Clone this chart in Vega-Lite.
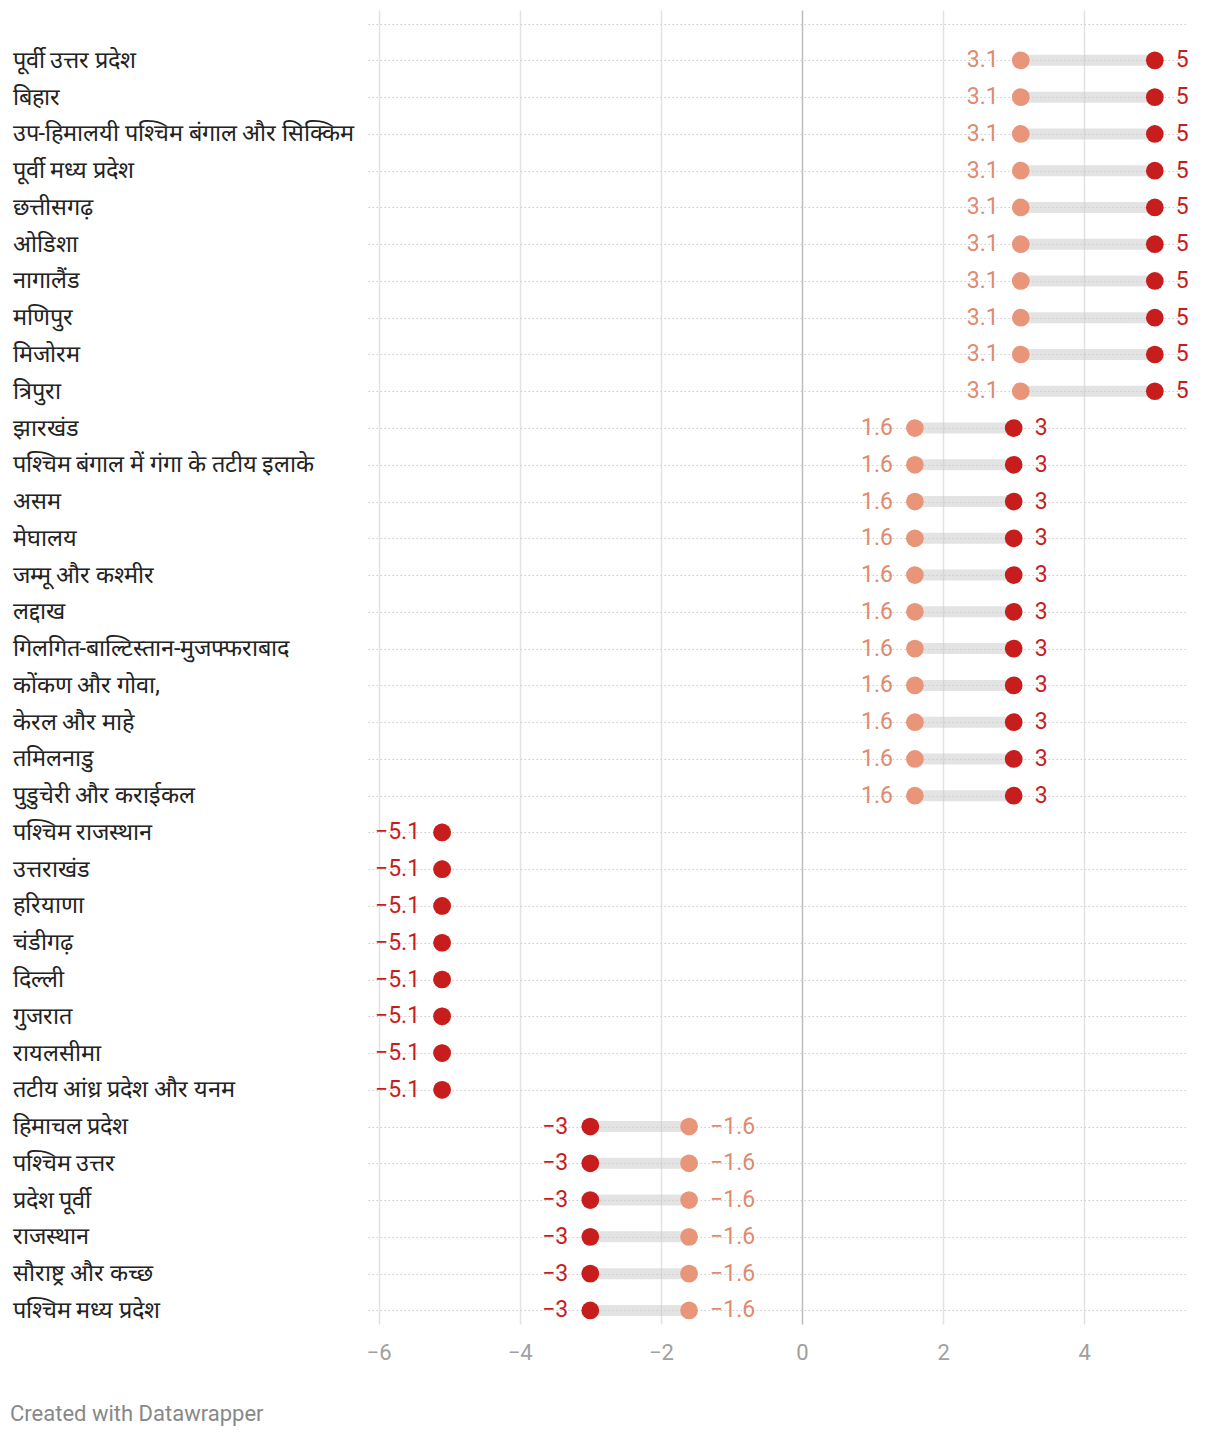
{
  "$schema": "https://vega.github.io/schema/vega-lite/v6.json",
  "autosize": "none",
  "width": 820,
  "height": 1314,
  "padding": {"left": 368, "top": 10, "right": 32, "bottom": 114},
  "background": "white",
  "config": {"view": {"stroke": null}, "font": "Roboto"},
  "title": {
    "text": "Created with Datawrapper",
    "orient": "bottom",
    "anchor": "start",
    "frame": "group",
    "dx": -358,
    "offset": 41,
    "fontSize": 22,
    "font": "Roboto",
    "fontWeight": "normal",
    "color": "#888888"
  },
  "data": {
    "values": [
      {"region": "पूर्वी उत्तर प्रदेश", "value1": 3.1, "value2": 5},
      {"region": "बिहार", "value1": 3.1, "value2": 5},
      {"region": "उप-हिमालयी पश्चिम बंगाल और सिक्किम", "value1": 3.1, "value2": 5},
      {"region": "पूर्वी मध्य प्रदेश", "value1": 3.1, "value2": 5},
      {"region": "छत्तीसगढ़", "value1": 3.1, "value2": 5},
      {"region": "ओडिशा", "value1": 3.1, "value2": 5},
      {"region": "नागालैंड", "value1": 3.1, "value2": 5},
      {"region": "मणिपुर", "value1": 3.1, "value2": 5},
      {"region": "मिजोरम", "value1": 3.1, "value2": 5},
      {"region": "त्रिपुरा", "value1": 3.1, "value2": 5},
      {"region": "झारखंड", "value1": 1.6, "value2": 3},
      {"region": "पश्चिम बंगाल में गंगा के तटीय इलाके", "value1": 1.6, "value2": 3},
      {"region": "असम", "value1": 1.6, "value2": 3},
      {"region": "मेघालय", "value1": 1.6, "value2": 3},
      {"region": "जम्मू और कश्मीर", "value1": 1.6, "value2": 3},
      {"region": "लद्दाख", "value1": 1.6, "value2": 3},
      {"region": "गिलगित-बाल्टिस्तान-मुजफ्फराबाद", "value1": 1.6, "value2": 3},
      {"region": "कोंकण और गोवा,", "value1": 1.6, "value2": 3},
      {"region": "केरल और माहे", "value1": 1.6, "value2": 3},
      {"region": "तमिलनाडु", "value1": 1.6, "value2": 3},
      {"region": "पुडुचेरी और कराईकल", "value1": 1.6, "value2": 3},
      {"region": "पश्चिम राजस्थान", "value1": -5.1, "value2": -5.1},
      {"region": "उत्तराखंड", "value1": -5.1, "value2": -5.1},
      {"region": "हरियाणा", "value1": -5.1, "value2": -5.1},
      {"region": "चंडीगढ़", "value1": -5.1, "value2": -5.1},
      {"region": "दिल्ली", "value1": -5.1, "value2": -5.1},
      {"region": "गुजरात", "value1": -5.1, "value2": -5.1},
      {"region": "रायलसीमा", "value1": -5.1, "value2": -5.1},
      {"region": "तटीय आंध्र प्रदेश और यनम", "value1": -5.1, "value2": -5.1},
      {"region": "हिमाचल प्रदेश", "value1": -1.6, "value2": -3},
      {"region": "पश्चिम उत्तर", "value1": -1.6, "value2": -3},
      {"region": "प्रदेश पूर्वी", "value1": -1.6, "value2": -3},
      {"region": "राजस्थान", "value1": -1.6, "value2": -3},
      {"region": "सौराष्ट्र और कच्छ", "value1": -1.6, "value2": -3},
      {"region": "पश्चिम मध्य प्रदेश", "value1": -1.6, "value2": -3}
    ]
  },
  "encoding": {
    "y": {
      "field": "region",
      "type": "nominal",
      "sort": null,
      "scale": {
        "type": "point",
        "padding": 0.37,
        "domain": [" ", "पूर्वी उत्तर प्रदेश", "बिहार", "उप-हिमालयी पश्चिम बंगाल और सिक्किम", "पूर्वी मध्य प्रदेश", "छत्तीसगढ़", "ओडिशा", "नागालैंड", "मणिपुर", "मिजोरम", "त्रिपुरा", "झारखंड", "पश्चिम बंगाल में गंगा के तटीय इलाके", "असम", "मेघालय", "जम्मू और कश्मीर", "लद्दाख", "गिलगित-बाल्टिस्तान-मुजफ्फराबाद", "कोंकण और गोवा,", "केरल और माहे", "तमिलनाडु", "पुडुचेरी और कराईकल", "पश्चिम राजस्थान", "उत्तराखंड", "हरियाणा", "चंडीगढ़", "दिल्ली", "गुजरात", "रायलसीमा", "तटीय आंध्र प्रदेश और यनम", "हिमाचल प्रदेश", "पश्चिम उत्तर", "प्रदेश पूर्वी", "राजस्थान", "सौराष्ट्र और कच्छ", "पश्चिम मध्य प्रदेश"]
      },
      "axis": {
        "title": null,
        "domain": false,
        "ticks": false,
        "labelAlign": "left",
        "labelBaseline": "middle",
        "labelPadding": 356,
        "labelLimit": 400,
        "labelFontSize": 23.5,
        "labelColor": "#222222",
        "labelFont": "Roboto",
        "grid": true,
        "gridColor": "#cccccc",
        "gridDash": [1.5, 2.5],
        "gridWidth": 1
      }
    }
  },
  "layer": [
    {
      "mark": {"type": "rule", "strokeWidth": 11, "color": "#c8c8c8", "opacity": 0.5},
      "encoding": {
        "x": {
          "field": "value1",
          "type": "quantitative",
          "scale": {"domain": [-6.15, 5.47], "nice": false, "zero": false},
          "axis": {
            "title": null,
            "domain": false,
            "ticks": false,
            "values": [-6, -4, -2, 0, 2, 4],
            "format": "~g",
            "labelFontSize": 22,
            "labelColor": "#a0a0a0",
            "labelPadding": 18,
            "labelFont": "Roboto",
            "grid": true,
            "gridColor": {"condition": {"test": "datum.value === 0", "value": "#bdbdbd"}, "value": "#e2e2e2"},
            "gridWidth": 1.5
          }
        },
        "x2": {"field": "value2"}
      }
    },
    {
      "mark": {"type": "circle", "size": 314, "opacity": 1, "color": "#e8957a"},
      "encoding": {"x": {"field": "value1", "type": "quantitative"}}
    },
    {
      "mark": {"type": "circle", "size": 314, "opacity": 1, "color": "#c71e1d"},
      "encoding": {"x": {"field": "value2", "type": "quantitative"}}
    },
    {
      "transform": [{"filter": "datum.value1 < datum.value2"}],
      "mark": {"type": "text", "align": "right", "baseline": "middle", "dx": -22, "fontSize": 23, "color": "#e08a6e", "font": "Roboto"},
      "encoding": {"x": {"field": "value1", "type": "quantitative"}, "text": {"field": "value1", "type": "quantitative", "format": ".1~f"}}
    },
    {
      "transform": [{"filter": "datum.value1 > datum.value2"}],
      "mark": {"type": "text", "align": "left", "baseline": "middle", "dx": 21, "fontSize": 23, "color": "#e08a6e", "font": "Roboto"},
      "encoding": {"x": {"field": "value1", "type": "quantitative"}, "text": {"field": "value1", "type": "quantitative", "format": ".1~f"}}
    },
    {
      "transform": [{"filter": "datum.value2 > datum.value1"}],
      "mark": {"type": "text", "align": "left", "baseline": "middle", "dx": 21, "fontSize": 23, "color": "#c71e1d", "font": "Roboto"},
      "encoding": {"x": {"field": "value2", "type": "quantitative"}, "text": {"field": "value2", "type": "quantitative", "format": ".1~f"}}
    },
    {
      "transform": [{"filter": "datum.value2 <= datum.value1"}],
      "mark": {"type": "text", "align": "right", "baseline": "middle", "dx": -22, "fontSize": 23, "color": "#c71e1d", "font": "Roboto"},
      "encoding": {"x": {"field": "value2", "type": "quantitative"}, "text": {"field": "value2", "type": "quantitative", "format": ".1~f"}}
    }
  ]
}
